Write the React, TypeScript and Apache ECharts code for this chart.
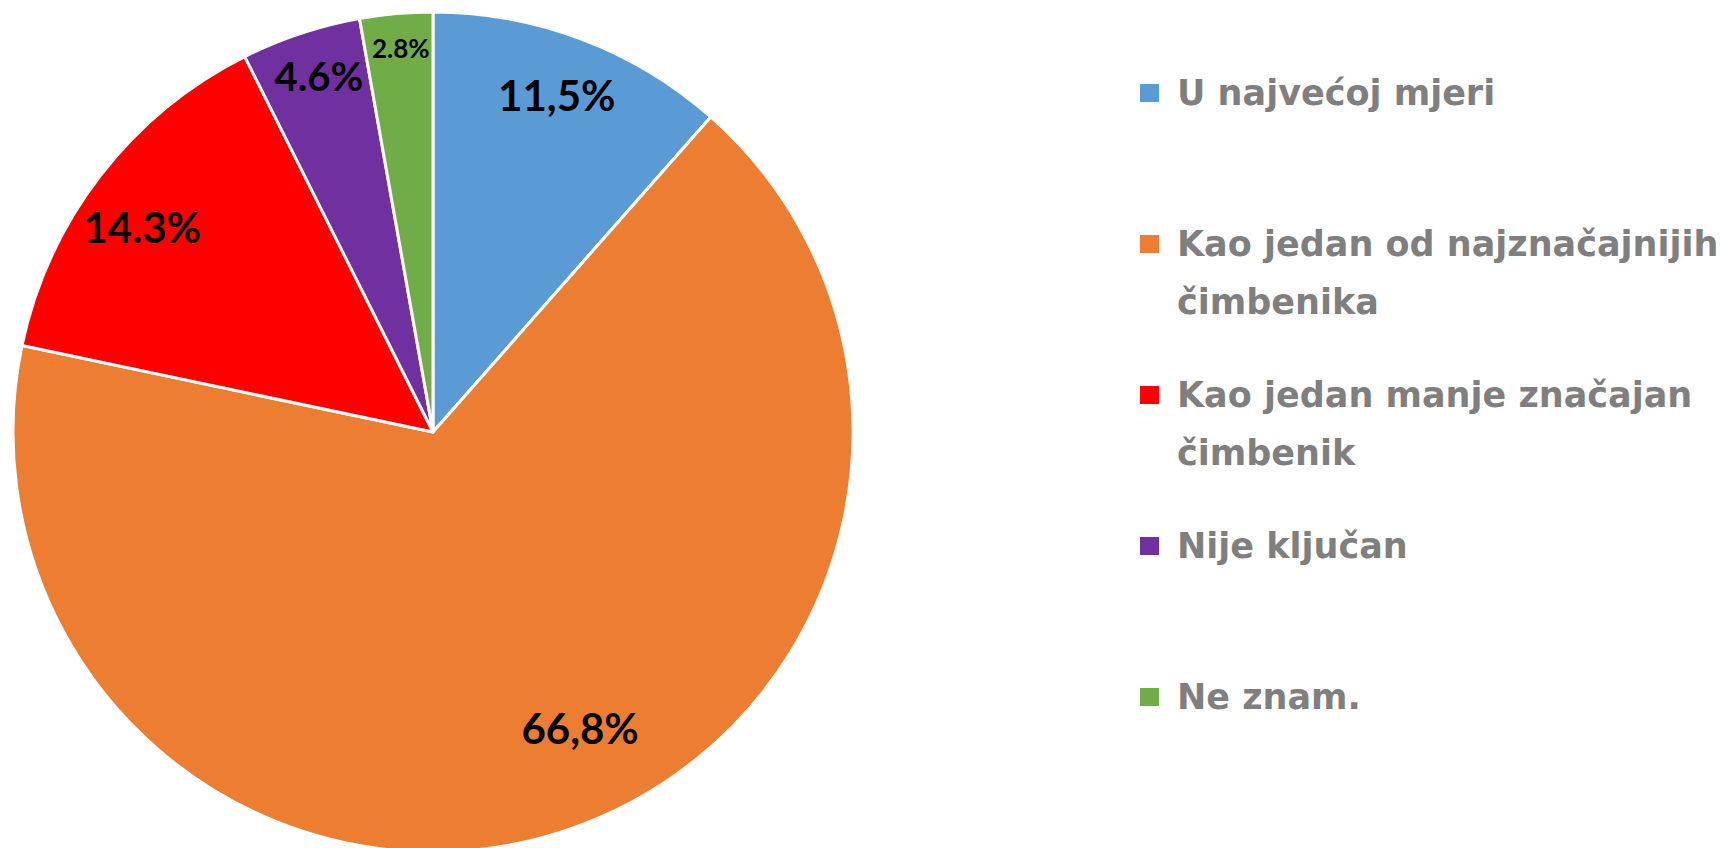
import React, { useEffect, useRef } from "react";
import * as echarts from "echarts";

const categories = [
  "U najvećoj mjeri",
  "Kao jedan od najznačajnijih čimbenika",
  "Kao jedan manje značajan čimbenik",
  "Nije ključan",
  "Ne znam.",
];
const values = [11.5, 66.8, 14.3, 4.6, 2.8];
const valueLabels = ["11,5%", "66,8%", "14.3%", "4.6%", "2.8%"];
const legendLines = [
  ["U najvećoj mjeri"],
  ["Kao jedan od najznačajnijih", "čimbenika"],
  ["Kao jedan manje značajan", "čimbenik"],
  ["Nije ključan"],
  ["Ne znam."],
];

const colors = ["#5B9BD5", "#ED7D31", "#FF0000", "#7030A0", "#70AD47"];
const labelOffsets = [
  [-2, -4],
  [35, -42],
  [-9, 12],
  [-2, -18],
  [-1, -30],
];
const labelSizes = [42, 42, 42, 40, 26];
const LINE_H = 58;

export default function App() {
  const ref = useRef<HTMLDivElement>(null);
  useEffect(() => {
    if (!ref.current) return;
    const chart = echarts.init(ref.current, null, { renderer: "svg" });
    const R = 420;
    const center = [433, 432];
    chart.setOption({
      animation: false,
      color: colors,
      legend: {
        orient: "vertical",
        left: 1138,
        top: 6,
        padding: 0,
        itemWidth: 21,
        itemHeight: 20,
        itemGap: -23,
        icon: "rect",
        selectedMode: false,
        data: categories.map((name, i) => ({
          name,
          textStyle: {
            padding: legendLines[i].length > 1 ? [0, 0, 0, 12] : [LINE_H, 0, LINE_H, 12],
          },
        })),
        formatter: (name: string) => {
          const lines = legendLines[categories.indexOf(name)];
          return lines.length > 1 ? " \n" + lines.join("\n") : lines[0];
        },
        textStyle: {
          fontFamily: "DejaVu Sans",
          fontWeight: "bold",
          fontSize: 35,
          lineHeight: LINE_H,
          color: "#7F7F7F",
          backgroundColor: "rgba(255,255,255,0)",
        },
      },
      series: [
        {
          type: "pie",
          center,
          radius: [0, R],
          startAngle: 90,
          clockwise: true,
          silent: true,
          label: { show: false },
          labelLine: { show: false },
          itemStyle: { borderColor: "#FFFFFF", borderWidth: 3 },
          data: categories.map((name, i) => ({ name, value: values[i] })),
        },
        {
          type: "pie",
          center,
          radius: [R * 0.68, R],
          startAngle: 90,
          clockwise: true,
          silent: true,
          legendHoverLink: false,
          itemStyle: { color: "rgba(0,0,0,0)", borderWidth: 0 },
          labelLine: { show: false },
          label: {
            show: true,
            position: "inside",
            fontFamily: "Lato",
            fontWeight: "bold",
            color: "#000000",
          },
          data: categories.map((name, i) => ({
            name,
            value: values[i],
            label: {
              formatter: valueLabels[i],
              offset: labelOffsets[i],
              fontSize: labelSizes[i],
            },
          })),
        },
      ],
    });
    return () => chart.dispose();
  }, []);
  return (
    <div
      ref={ref}
      style={{ position: "fixed", left: 0, top: 0, width: 1721, height: 848, background: "#fff" }}
    />
  );
}
